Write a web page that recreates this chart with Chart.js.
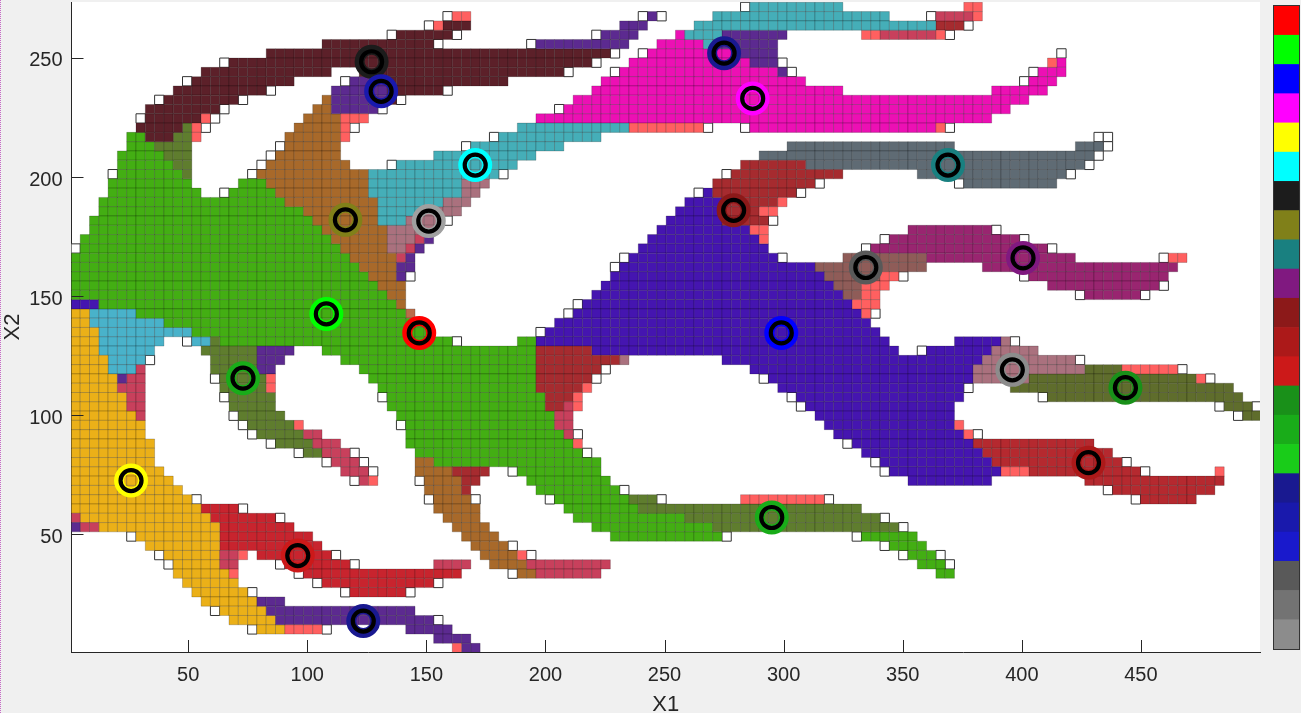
<!DOCTYPE html>
<html>
<head>
<meta charset="utf-8">
<title>X1 / X2 cluster map</title>
<script src="https://cdn.jsdelivr.net/npm/chart.js@4"></script>
<style>
  html, body { margin: 0; padding: 0; background: #f0f0f0; overflow: hidden; }
  #wrap { position: relative; width: 1301px; height: 713px; overflow: hidden; }
  /* canvas runs past the page: chart.js keeps 20px above the plot, and X1 sits at the box bottom */
  #map { position: absolute; left: 0; top: -20px; }
  #bar { position: absolute; left: 1274px; top: 6px; outline: 1px solid #333; }
  #edge { position: absolute; left: 0; top: 0; width: 0; height: 713px; border-left: 1px dotted #c66ac6; }
</style>
</head>
<body>
<div id="wrap">
  <canvas id="map" width="1301" height="738"></canvas>
  <canvas id="bar" width="25" height="643"></canvas>
  <div id="edge"></div>
</div>
<script>
// Cluster map on a 128 x 70 grid, rows listed from the top. Token = class + column range.
const rowRuns = [
  'w72 T73-82 L96-97',
  'w40 L41-42 w61 V62 w63 T69-87 w92 E93-96 L97',
  'w38 L39 D40-42 V59-61 T67-92 R93-95 w96',
  'w34 D35-40 w41 w56 V57-60 M65 T66-69 V70-76 L85-86 E87-92 L93 w94',
  'D27-38 w39 w49 V50-59 M63-67 T68 V69-75',
  'D21-57 w58 w61 M62-70 V71-75 w106',
  'w16 D17-55 w56 M60-72 V73-75 w76 L105 M106',
  'D14-27 D31-52 w53 w58 M59-75 V76 w77 w103 M104-106',
  'w12 D13-23 w29 V30-33 D34-46 M57-78 w102 M103-105',
  'D11-20 w21 V28-33 D34-39 w40 M56-82 M99-104',
  'w9 D10-17 w18 B27 V28-33 D34 w35 M54-102',
  'D8-15 w16 B26-27 V28-32 w33 w52 M53-100',
  'w7 D8-13 L14 w15 B25-28 L29-31 M50-98',
  'D7-11 O12 L13 w14 B24-28 L29 w30 T48-59 L60-67 w68 w72 M73-92 L93 w94',
  'G6-7 D8-10 O11-12 L13 B23-28 L29 w45 T46-56 w110-111',
  'G6-8 O9-12 w22 B23-28 w42 T43-52 S77-94 S108-110 w111',
  'G5-9 O10-12 w21 B22-28 T39-49 S74-109 w110',
  'G5-10 O11-12 w20 B21-29 w34 T35-47 R72-78 S79-108 w109',
  'w4 G5-11 O12 w19 B20-31 T32-45 w46 w70 R71-82 S91-106 w107',
  'G4-12 G18-20 B21-31 T32-41 A42-44 R69-79 w80 w95 S96-105',
  'G4-13 w16 G17-21 B22-31 T32-41 A42-43 w67 P68 R69-77 w78',
  'G3-22 B23-32 T33-39 A40-42 P66-69 R70-75 L76',
  'G3-24 B25-32 T33-37 A38-41 P65-69 R70-73 L74-75',
  'G2-25 B26-32 T33-35 A36-39 w40 P64-69 R70-74 w75',
  'G2-26 B27-33 A34-38 P63-72 L73-74 Q90-98 w99',
  'G1-27 B28-33 A34-36 E37 V38 P62-73 L74 w87 Q88-101 w102',
  'w0 G1-28 B29-33 A34-35 E36 V37 P61-74 w85 Q86-104 w105',
  'G0-29 B30-34 E35 V36 w59 P60-75 w76 N83-91 Q92-107 w117 L118-119',
  'G0-30 B31-34 V35-36 w58 P59-79 N80-91 Q98-118',
  'G0-31 B32-34 V35 w36 P58-80 N81-86 L87-88 w89 w102 Q103-117',
  'G0-32 B33-35 P57-81 N82-84 L85-87 Q105-116 w117',
  'G0-33 B34-35 P56-82 N83-84 L85-86 w108 Q109-114 w115',
  'P0-2 G3-34 B35 w54 P55-83 L84-86',
  'Y0-1 K2-6 G7-35 F36 w53 P54-84 L85 w86',
  'Y0-1 K2-9 G10-37 P52-85',
  'Y0-2 K3-12 G13-38 w50 P51-86',
  'Y0-2 K3-9 w12 K13-14 O15 G16-40 w41 G48-49 P50-87 P95-99 A100 w101',
  'Y0-2 K3-8 O14-19 V20-23 G27-49 R50-55 P56-88 w91 P92-98 A99-103',
  'Y0-3 K4-7 w8 O15-19 V20-22 G29-49 R50-58 A59 P70-97 A98-107 w108',
  'Y0-3 K4-6 E7 O15-19 V20-21 G31-49 R50-56 w57 P73-96 A97-108 Z109-112 L113-118 w119',
  'Y0-4 V5 E6-7 w15 O16-20 L21 G32-49 R50-55 w56 w74 P75-96 A97-102 Z103-120 L121 w122',
  'Y0-4 E5-7 O16-20 L21 G33-49 R50-54 L55 P76-95 w96 Z101-124',
  'Y0-5 E6-7 w16 O17-21 w33 G34-50 R51-53 L54 w77 P78-95 w104 Z105-125',
  'Y0-5 E6-7 O17-21 G34-50 R51-52 E53 L54 w78 P79-94 w123 Z124-126 w127',
  'Y0-6 E7 w17 O18-22 G35-51 E52-53 P80-94 w125 Z126-127',
  'Y0-7 w18 O19-23 L24 w35 G36-51 E52-53 P81-94 L95',
  'Y0-7 w19 O20-24 E25-26 G36-52 E53 w54 P82-95 L96 w97',
  'Y0-8 w21 O22-25 E26-28 G36-53 L54 w83 P84-96 u97-109',
  'Y0-8 w24 O25-26 E27-29 w30 G37-54 w55 P85-97 u98-111',
  'Y0-8 w27 E28-30 w31 B37-38 G39-56 w86 P87-98 u99-112 w113',
  'Y0-9 E29-31 w32 B37-40 R41-44 w47 G48-56 w87 P88-99 L100-102 u103-114 w115 L123',
  'Y0-10 w30 E31 L32 w37 B38-41 R42-43 G49-57 P90-98 u109-123',
  'Y0-11 B38-41 R42 G50-58 w59 w111 u112-122',
  'Y0-12 w13 w38 B39-42 w43 w51 G52-59 O60-62 w63 L72-80 w81 w114 u115-120',
  'Y0-13 r14-17 w18 B39-43 G53-60 O61-84',
  'E0 Y1-14 r15-21 w22 B40-43 G54-65 O66-86 w87',
  'V0 E1-2 Y3-15 r16-23 B41-44 G56-68 O69-88 w89',
  'w6 Y7-15 r16-25 B42-45 G58-69 w70 w84 G85-90',
  'Y8-15 r16-26 B43-46 w47 w87 G88-91',
  'w9 Y10-15 E16-17 L18 r20-27 w28 B44-47 L48 w49 w89 G90-92 w93',
  'w10 Y11-15 E16-17 w22 r23-29 w30 E39-42 B45-48 E49-57 G91-93 w94',
  'Y11-16 L17 w24 r25-41 w47 B48-49 E50-56 G93-94',
  'Y12-17 w26 r27-38 w39',
  'Y13-18 w19 w29 r30-35 w36',
  'Y14-19 V20-22',
  'w15 Y16-20 V21-36',
  'Y17-21 V22-38 w39',
  'w19 Y20-22 L23-26 w27 V36-40',
  'V39-42',
  'L41 V42-43',
];

const classColors = {
  G: '#43ae13', Y: '#ebb018', P: '#4515b0', D: '#5c2029', B: '#a8692a', M: '#ec10b4',
  T: '#45aeb8', S: '#5f6b74', R: '#a62b2f', r: '#c8242e', u: '#b5292f', Q: '#992570',
  V: '#5c2a90', O: '#5f7d2e', Z: '#5f6d2c', A: '#aa717e', L: '#ff6060', E: '#c8405c',
  N: '#8f5c58', K: '#49b2ca', F: '#bb6c4a', w: '#ffffff',
};

// Cluster centres
const centerX = [127, 131, 170.5, 116, 151, 108, 147, 73, 26, 96, 123.5, 295, 396, 443.5, 428, 299, 334.5, 400.5, 279, 369, 287, 275];
const centerY = [248.4, 236, 205, 182, 181.5, 142.5, 134.5, 115.5, 72.5, 41, 13.5, 57, 119, 111.5, 80, 134.5, 162, 166, 186, 205, 233, 252];
const centerColor = ['#1c1c1c', '#1919ac', '#00ffff', '#808019', '#a0a0a0', '#00ff00', '#ff0000', '#19ac19', '#ffff00', '#cc1919',
  '#191990', '#19ac19', '#8c8c8c', '#199019', '#ac1919', '#0000ff', '#595959', '#801980', '#8c1919', '#198080', '#ff00ff', '#191990'];

const barColors = ['#ff0000', '#00ff00', '#0000ff', '#ff00ff', '#ffff00', '#00ffff', '#1c1c1c', '#808019', '#198080', '#801980',
  '#8c1919', '#ac1919', '#cc1919', '#199019', '#19ac19', '#19cc19', '#191990', '#1919ac', '#1919cc', '#595959', '#737373', '#8c8c8c'];

const xTickValues = [50, 100, 150, 200, 250, 300, 350, 400, 450];
const yTickValues = [50, 100, 150, 200, 250];

const cellX = c => 0.75 + 3.905 * (c + 0.5);
const cellY = k => 273.37 - 3.902 * (k + 0.5);

// expand the run strings into one point list per class
const cells = {};
rowRuns.forEach((row, k) => {
  row.split(' ').forEach(tok => {
    const m = tok.match(/^([A-Za-z])(\d+)(?:-(\d+))?$/);
    const to = m[3] ? +m[3] : +m[2];
    cells[m[1]] = cells[m[1]] || [];
    for (let c = +m[2]; c <= to; c++) cells[m[1]].push({ x: cellX(c), y: cellY(k) });
  });
});

const cellSets = Object.keys(cells).map(name => ({
  data: cells[name],
  pointStyle: 'rect',
  pointRadius: 6.58,
  pointHoverRadius: 6.58,
  pointBackgroundColor: classColors[name],
  pointBorderColor: name === 'w' ? '#333333' : 'rgba(0,0,0,0.2)',
  pointBorderWidth: 1,
  order: name === 'w' ? 3 : 2,
}));

const centers = centerX.map((x, i) => ({ x, y: centerY[i] }));

const plotBack = {
  id: 'plotBack',
  beforeDraw(chart) {
    const a = chart.chartArea, ctx = chart.ctx;
    ctx.save();
    ctx.fillStyle = '#ffffff';
    ctx.fillRect(a.left, a.top, a.right - a.left, a.bottom - a.top);
    ctx.restore();
  },
};

// MATLAB style ticks point into the plot
const inwardTicks = {
  id: 'inwardTicks',
  afterDatasetsDraw(chart) {
    const a = chart.chartArea, ctx = chart.ctx;
    ctx.save();
    ctx.strokeStyle = '#262626';
    ctx.lineWidth = 1;
    ctx.beginPath();
    xTickValues.forEach(v => {
      const px = Math.round(chart.scales.x.getPixelForValue(v)) + 0.5;
      ctx.moveTo(px, a.bottom);
      ctx.lineTo(px, a.bottom - 12);
    });
    yTickValues.forEach(v => {
      const py = Math.round(chart.scales.y.getPixelForValue(v)) + 0.5;
      ctx.moveTo(a.left, py);
      ctx.lineTo(a.left + 12, py);
    });
    ctx.stroke();
    ctx.restore();
  },
};

const tickFont = { family: '"Liberation Sans", Arial, sans-serif', size: 20 };
const titleFont = { family: '"Liberation Sans", Arial, sans-serif', size: 22 };

new Chart(document.getElementById('map'), {
  type: 'scatter',
  data: {
    datasets: [
      { data: centers, pointStyle: 'circle', pointRadius: 10.5, pointBackgroundColor: 'transparent',
        pointBorderColor: '#000000', pointBorderWidth: 4.2, order: 0 },
      { data: centers, pointStyle: 'circle', pointRadius: 12, pointBackgroundColor: 'transparent',
        pointBorderColor: centerColor, pointBorderWidth: 10, order: 1 },
      ...cellSets,
    ],
  },
  plugins: [plotBack, inwardTicks],
  options: {
    responsive: false,
    animation: false,
    events: [],
    layout: { padding: { top: 2, right: 41, left: 0, bottom: 0 } },
    plugins: { legend: { display: false }, tooltip: { enabled: false } },
    scales: {
      x: {
        type: 'linear', min: 1, max: 500,
        afterFit(s) { s.height = 66; s.paddingLeft = 0; s.paddingRight = 0; },
        afterBuildTicks(s) { s.ticks = xTickValues.map(value => ({ value })); },
        grid: { drawOnChartArea: false, drawTicks: false },
        border: { color: '#262626', width: 1 },
        ticks: { color: '#262626', font: tickFont, padding: 11, maxRotation: 0, autoSkip: false },
        title: { display: true, text: 'X1', color: '#262626', font: titleFont, padding: { top: 0, bottom: 0 } },
      },
      y: {
        type: 'linear', min: 0.5, max: 273.5,
        afterFit(s) { s.width = 71.5; s.paddingTop = 0; s.paddingBottom = 0; },
        afterBuildTicks(s) { s.ticks = yTickValues.map(value => ({ value })); },
        grid: { drawOnChartArea: false, drawTicks: false },
        border: { color: '#262626', width: 1 },
        ticks: { color: '#262626', font: tickFont, padding: 9, autoSkip: false, labelOffset: 3 },
        title: { display: true, text: 'X2', color: '#262626', font: titleFont, padding: { top: 0, bottom: 0 } },
      },
    },
  },
});

// colour key on the right, red at the top
new Chart(document.getElementById('bar'), {
  type: 'bar',
  data: {
    labels: ['key'],
    datasets: barColors.slice().reverse().map(color => ({
      data: [1], backgroundColor: color, barPercentage: 1, categoryPercentage: 1, borderWidth: 0,
    })),
  },
  options: {
    responsive: false,
    animation: false,
    events: [],
    plugins: { legend: { display: false }, tooltip: { enabled: false } },
    scales: {
      x: { stacked: true, display: false },
      y: { stacked: true, display: false, min: 0, max: barColors.length },
    },
  },
});
</script>
</body>
</html>
